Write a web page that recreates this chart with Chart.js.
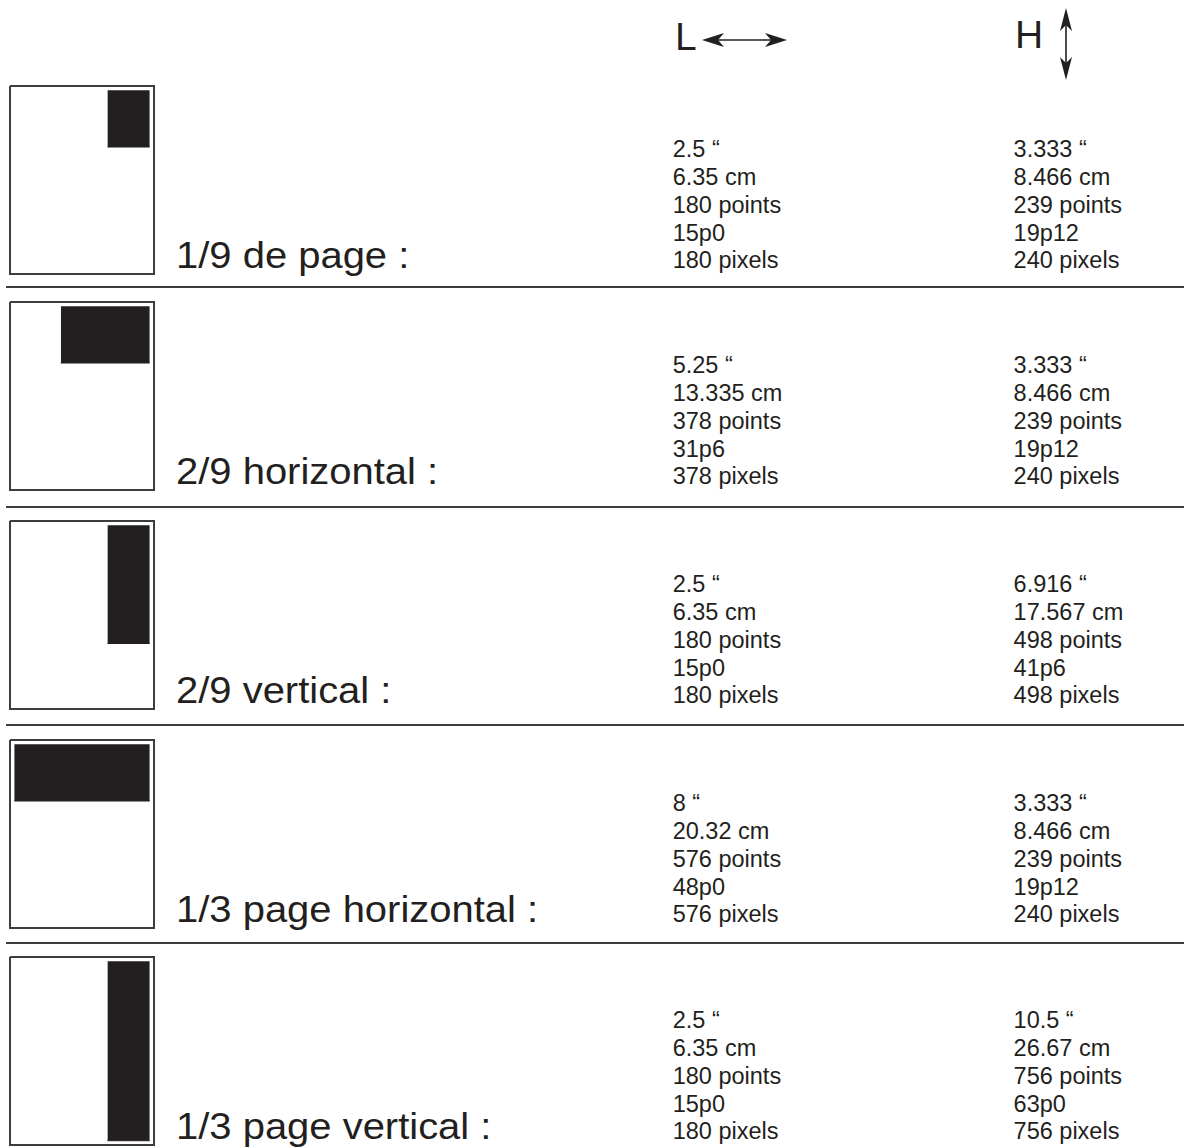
<!DOCTYPE html>
<html lang="fr">
<head>
<meta charset="utf-8">
<title>Formats publicitaires</title>
<script src="https://cdn.jsdelivr.net/npm/chart.js@4.4.1/dist/chart.umd.min.js"></script>
<style>
  html, body {
    margin: 0;
    padding: 0;
    background: #ffffff;
  }
  body {
    position: relative;
    width: 1184px;
    height: 1148px;
    overflow: hidden;
    font-family: "Liberation Sans", Arial, Helvetica, sans-serif;
    color: #231f20;
  }
  .vignette {
    position: absolute;
    left: 8px;
  }
  .libelle {
    position: absolute;
    left: 176px;
    font-size: 36px;
    line-height: 36px;
    white-space: nowrap;
    transform: scaleX(1.11);
    transform-origin: left top;
  }
  .mesures {
    position: absolute;
    font-size: 23.5px;
    line-height: 27.9px;
    white-space: nowrap;
  }
  .filet {
    position: absolute;
    left: 6px;
    right: 0;
    height: 2px;
    background: #3d3d3d;
  }
  .entete {
    position: absolute;
    top: 17px;
    font-size: 39px;
    line-height: 39px;
  }
  svg.fleches {
    position: absolute;
    left: 0;
    top: 0;
  }
</style>
</head>
<body>

<div class="entete" style="left: 675px;">L</div>
<div class="entete" style="left: 1015px; top: 15px;">H</div>
<svg class="fleches" width="1184" height="90">
  <!-- largeur -->
  <line x1="716" y1="40" x2="772" y2="40" stroke="#231f20" stroke-width="1.6"/>
  <polygon points="702,40 724,33 718,40 724,47" fill="#231f20"/>
  <polygon points="787,40 765,33 771,40 765,47" fill="#231f20"/>
  <!-- hauteur -->
  <line x1="1066" y1="22" x2="1066" y2="66" stroke="#231f20" stroke-width="1.6"/>
  <polygon points="1066,8 1060,31 1066,25 1072,31" fill="#231f20"/>
  <polygon points="1066,80 1060,57 1066,63 1072,57" fill="#231f20"/>
</svg>

<script>
// Page de référence (format lettre, en points) et marge intérieure
const PAGE_LARGEUR = 612;
const PAGE_HAUTEUR = 792;
const MARGE = 18;

// Les cinq formats
const formats = [
  "1/9 de page :",
  "2/9 horizontal :",
  "2/9 vertical :",
  "1/3 page horizontal :",
  "1/3 page vertical :",
];

// Largeur (L)
const largeurPouces = ["2.5", "5.25", "2.5", "8", "2.5"];
const largeurCm = ["6.35", "13.335", "6.35", "20.32", "6.35"];
const largeurPoints = [180, 378, 180, 576, 180];
const largeurPicas = ["15p0", "31p6", "15p0", "48p0", "15p0"];
const largeurPixels = [180, 378, 180, 576, 180];

// Hauteur (H)
const hauteurPouces = ["3.333", "3.333", "6.916", "3.333", "10.5"];
const hauteurCm = ["8.466", "8.466", "17.567", "8.466", "26.67"];
const hauteurPoints = [239, 239, 498, 239, 756];
const hauteurPicas = ["19p12", "19p12", "41p6", "19p12", "63p0"];
const hauteurPixels = [240, 240, 498, 240, 756];

// Mise en page (pixels)
const hautLignes = [85, 301, 520, 739, 956];
const filets = [286, 505.5, 724, 942];

/**
 * Dessine la vignette d'une page avec l'emplacement de la publicité.
 */
function dessinerVignette(i) {
  const canvas = document.createElement("canvas");
  canvas.className = "vignette";
  canvas.width = 148;
  canvas.height = 192;
  canvas.style.top = (hautLignes[i] - 1) + "px";
  document.body.appendChild(canvas);

  // la publicité est calée en haut à droite de la zone utile
  const x1 = PAGE_LARGEUR - MARGE;
  const x0 = x1 - largeurPoints[i];
  const yBas = MARGE + hauteurPoints[i];

  new Chart(canvas, {
    type: "scatter",
    data: {
      datasets: [
        {
          data: [
            { x: x0, y: yBas },
            { x: x1, y: yBas },
          ],
          showLine: true,
          fill: { value: MARGE },
          backgroundColor: "#231f20",
          borderColor: "#231f20",
          borderWidth: 1,
          pointRadius: 0,
          clip: false,
        },
        {
          data: [
            { x: 0, y: 0 },
            { x: PAGE_LARGEUR, y: 0 },
            { x: PAGE_LARGEUR, y: PAGE_HAUTEUR },
            { x: 0, y: PAGE_HAUTEUR },
            { x: 0, y: 0 },
          ],
          showLine: true,
          fill: false,
          borderColor: "#3d3d3d",
          borderWidth: 2,
          pointRadius: 0,
          clip: false,
        },
      ],
    },
    options: {
      responsive: false,
      animation: false,
      events: [],
      layout: { padding: 2 },
      plugins: {
        legend: { display: false },
        tooltip: { enabled: false },
      },
      scales: {
        x: { type: "linear", min: 0, max: PAGE_LARGEUR, display: false },
        y: { type: "linear", min: 0, max: PAGE_HAUTEUR, reverse: true, display: false },
      },
    },
  });
}

/**
 * Ajoute un bloc de texte (une colonne de mesures).
 */
function ajouterMesures(gauche, baseDerniere, lignes) {
  const div = document.createElement("div");
  div.className = "mesures";
  div.style.left = gauche + "px";
  // 22.1 = position de la ligne de base dans une ligne de 27.9px
  div.style.top = (baseDerniere - 27.9 * (lignes.length - 1) - 22.1) + "px";
  div.innerHTML = lignes.join("<br>");
  document.body.appendChild(div);
}

document.addEventListener("DOMContentLoaded", () => {
  formats.forEach((nom, i) => {
    dessinerVignette(i);

    const base = hautLignes[i] + 183.5;

    const libelle = document.createElement("div");
    libelle.className = "libelle";
    libelle.style.top = (base - 30.5) + "px";
    libelle.textContent = nom;
    document.body.appendChild(libelle);

    ajouterMesures(672.7, base + 1, [
      largeurPouces[i] + " \u201c",
      largeurCm[i] + " cm",
      largeurPoints[i] + " points",
      largeurPicas[i],
      largeurPixels[i] + " pixels",
    ]);
    ajouterMesures(1013.6, base + 1, [
      hauteurPouces[i] + " \u201c",
      hauteurCm[i] + " cm",
      hauteurPoints[i] + " points",
      hauteurPicas[i],
      hauteurPixels[i] + " pixels",
    ]);
  });

  filets.forEach((y) => {
    const f = document.createElement("div");
    f.className = "filet";
    f.style.top = y + "px";
    document.body.appendChild(f);
  });
});
</script>
</body>
</html>
